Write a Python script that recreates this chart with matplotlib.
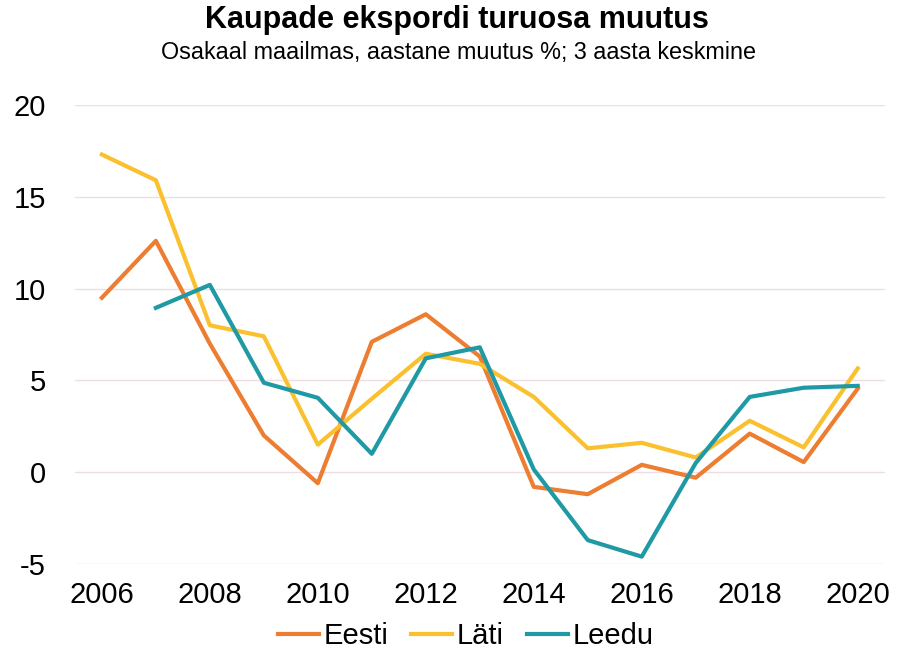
import matplotlib
matplotlib.use("Agg")
import matplotlib.pyplot as plt

plt.rcParams['font.family'] = ['Liberation Sans', 'DejaVu Sans']
plt.rcParams['axes.unicode_minus'] = False

years = list(range(2006, 2021))
eesti = [9.5, 12.6, 7.0, 2.0, -0.6, 7.1, 8.6, 6.3, -0.8, -1.2, 0.4, -0.3, 2.1, 0.55, 4.55]
lati = [17.3, 15.9, 8.0, 7.4, 1.5, 4.0, 6.45, 5.9, 4.1, 1.3, 1.6, 0.8, 2.8, 1.35, 5.65]
leedu_years = list(range(2007, 2021))
leedu = [8.95, 10.2, 4.87, 4.05, 1.0, 6.2, 6.8, 0.15, -3.7, -4.6, 0.5, 4.1, 4.6, 4.7]

yticks = [-5, 0, 5, 10, 15, 20]
xticks = list(range(2006, 2021, 2))

fig = plt.figure(figsize=(9.13, 6.52), dpi=100)
ax = fig.add_axes([0.082, 0.135, 0.887, 0.704])

ax.plot(years, eesti, color='#ED7D31', lw=3, label='Eesti')
ax.plot(years, lati, color='#FBC02D', lw=3, label='Läti')
ax.plot(leedu_years, leedu, color='#1F9AA5', lw=3, label='Leedu')

ax.set_ylim(-5, 20)
ax.set_xlim(2005.5, 2020.5)
ax.set_yticks(yticks)
ax.set_xticks(xticks)
ax.grid(axis='y', color='#EEDDE3', lw=1)
ax.set_axisbelow(True)
for s in ax.spines.values():
    s.set_visible(False)
ax.tick_params(length=0, labelsize=21)
ax.tick_params(axis='y', pad=21)
ax.tick_params(axis='x', pad=12)

fig.text(0.5, 0.969, 'Kaupade ekspordi turuosa muutus', ha='center', va='center',
         fontsize=22, fontweight='bold')
fig.text(0.502, 0.92, 'Osakaal maailmas, aastane muutus %; 3 aasta keskmine',
         ha='center', va='center', fontsize=16.8)

fig.legend(loc='center', bbox_to_anchor=(0.51, 0.024), ncol=3, frameon=False,
           fontsize=21, handlelength=1.4, handletextpad=0.15, columnspacing=0.8)

fig.savefig('out.png', dpi=100)
